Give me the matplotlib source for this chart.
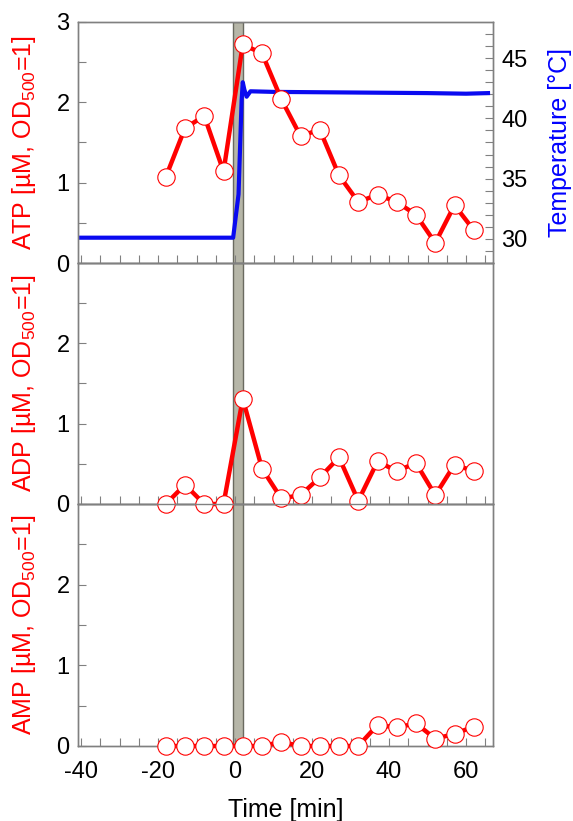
import matplotlib
matplotlib.use("Agg")
import matplotlib.pyplot as plt
import numpy as np

plt.rcParams['font.family'] = ['Liberation Sans', 'DejaVu Sans']
plt.rcParams['mathtext.fontset'] = 'custom'
plt.rcParams['mathtext.rm'] = 'Liberation Sans'
plt.rcParams['mathtext.it'] = 'Liberation Sans:italic'
plt.rcParams['axes.unicode_minus'] = False

# sampling times (min) and nucleotide levels
time_min = [-18, -13, -8, -3, 2, 7, 12, 17, 22, 27, 32, 37, 42, 47, 52, 57, 62]
atp = [1.07, 1.68, 1.83, 1.14, 2.72, 2.61, 2.04, 1.58, 1.66, 1.09, 0.76,
       0.85, 0.76, 0.60, 0.25, 0.72, 0.41]
adp = [0.0, 0.24, 0.0, 0.0, 1.31, 0.44, 0.07, 0.11, 0.33, 0.58, 0.04,
       0.53, 0.41, 0.51, 0.11, 0.49, 0.41]
amp = [0.0, 0.0, 0.0, 0.0, 0.0, 0.0, 0.05, 0.0, 0.0, 0.0, 0.0,
       0.26, 0.23, 0.28, 0.09, 0.15, 0.24]

# temperature trace
temp_time = [-40.8, -0.5, 0.9, 1.7, 2.0, 2.4, 3.0, 4.0, 10, 30, 50, 60, 65.7]
temp_c = [30.1, 30.1, 33.7, 41.5, 43.0, 42.4, 41.8, 42.25, 42.2, 42.15, 42.1, 42.05, 42.1]

shift_start, shift_end = -0.5, 2.0

grey = '#808080'
W, H = 573, 821
fig = plt.figure(figsize=(W / 100, H / 100), dpi=100)

left = 78 / W
width = (493 - 78) / W
edges = [22, 263, 504, 746]

labels = [r'ATP [µM, OD$_{\mathrm{500}}$=1]',
          r'ADP [µM, OD$_{\mathrm{500}}$=1]',
          r'AMP [µM, OD$_{\mathrm{500}}$=1]']
series = [atp, adp, amp]

def style(ax):
    for s in ax.spines.values():
        s.set_color(grey)
        s.set_linewidth(1.0)
    ax.tick_params(which='both', direction='in', length=6, width=0.8,
                   color=grey, labelsize=17, pad=6)
    ax.tick_params(axis='x', pad=11)

axes = []
for i in range(3):
    top, bot = edges[i], edges[i + 1]
    ax = fig.add_axes([left, 1 - bot / H, width, (bot - top) / H])
    tw = ax.twinx()
    ax.set_zorder(tw.get_zorder() + 1)
    ax.patch.set_visible(False)

    tw.axvspan(shift_start, shift_end, facecolor='#b6b6a8', edgecolor='#6a6a60',
               linewidth=1.0, zorder=1)

    ax.plot(time_min, series[i], '-o', color='red', lw=3.2, ms=12.5,
            mfc='white', mec='red', mew=0.8, zorder=3, clip_on=False)

    ax.set_xlim(-40.8, 67)
    ax.set_ylim(0, 3)
    ax.set_xticks([-40, -20, 0, 20, 40, 60])
    ax.set_xticks(np.arange(-40, 66, 5), minor=True)
    if i == 0:
        ax.set_yticks([0, 1, 2, 3])
    else:
        ax.set_yticks([0, 1, 2])
    ax.set_yticks([0.5, 1.5, 2.5], minor=True)
    style(ax)
    style(tw)
    if i < 2:
        ax.tick_params(axis='x', labelbottom=False)
    ax.set_ylabel(labels[i], color='red', fontsize=18)
    ax.yaxis.set_label_coords(-0.097, 0.5)

    if i == 0:
        tw.plot(temp_time, temp_c, color='#0a0af0', lw=3, zorder=2)
        tw.set_ylim(28, 48)
        tw.set_yticks([30, 35, 40, 45])
        tw.set_yticks(np.arange(28, 48, 1), minor=True)
        tw.set_ylabel('Temperature [°C]', color='blue', fontsize=18)
        tw.yaxis.set_label_coords(1.133, 0.5)
    else:
        tw.set_yticks([])
        tw.set_yticks([], minor=True)
    axes.append(ax)

axes[2].set_xlabel('Time [min]', fontsize=18)
axes[2].xaxis.set_label_coords(0.5, -0.215)

fig.savefig('out.png', dpi=100)
